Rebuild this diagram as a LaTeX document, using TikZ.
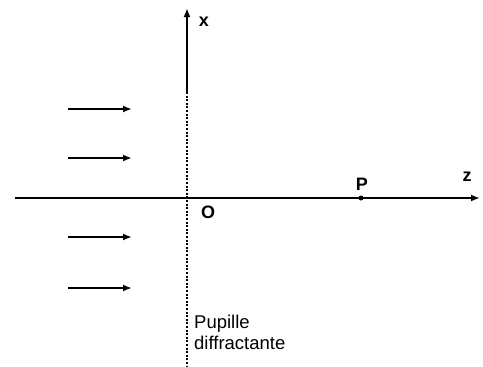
\documentclass[tikz,border=0pt]{standalone}
\usepackage{fontspec}
\setmainfont{Liberation Sans}
\usetikzlibrary{arrows.meta}
\begin{document}
\begin{tikzpicture}[x=1pt,y=-1pt,
  axis/.style={line width=2.2pt,-{Latex[length=9pt,width=7pt]}},
  beam/.style={line width=2pt,-{Latex[length=9pt,width=7pt]}},
  lbl/.style={font=\fontsize{18}{20}\selectfont\bfseries, inner sep=0pt}]
\useasboundingbox (0,0) rectangle (483,367);
% axes
\coordinate (zs) at (15,198);
\coordinate (ze) at (480,198);
\coordinate (xb) at (187,92);
\coordinate (xe) at (187,8);
\coordinate (xbot) at (187,367);
\draw[axis] (zs) -- (ze);
\draw[axis] (xb) -- (xe);
\draw[line width=2.2pt, dash pattern=on 2pt off 1.6pt] (xb) -- (xbot);
% incident beams
\foreach \y/\n in {109/a,158/b,237/c,288/d}{
  \coordinate (\n1) at (68,\y);
  \coordinate (\n2) at (132,\y);
  \draw[beam] (\n1) -- (\n2);
}
% point P
\node[circle, fill, inner sep=0pt, minimum size=5pt] (P) at (361,198) {};
% labels
\node[lbl] (lx) at (204,22) {x};
\node[lbl] (lO) at (208,212) {O};
\node[lbl] (lP) at (362,184) {P};
\node[lbl] (lz) at (467,177) {z};
\node[anchor=west, align=left, inner sep=0pt, font=\fontsize{18.5}{21}\selectfont] (pup) at (194,332) {Pupille\\diffractante};
\end{tikzpicture}
\end{document}
